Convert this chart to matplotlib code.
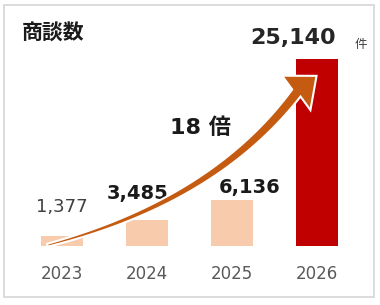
import numpy as np
import matplotlib.pyplot as plt
from matplotlib.patches import Polygon, Rectangle
from matplotlib.transforms import IdentityTransform

plt.rcParams['font.family'] = ['DejaVu Sans', 'Noto Sans CJK JP']

years = ['2023', '2024', '2025', '2026']
counts = [1377, 3485, 6136, 25140]
bar_colors = ['#F8CBAD', '#F8CBAD', '#F8CBAD', '#C00000']
value_labels = ['1,377', '3,485', '6,136', '25,140']

# label placement (data coords)
label_x = [0.0, 0.89, 2.21, 2.72]
label_y = [5240, 7120, 7930, 27950]
label_size = [13, 14, 14, 16]
label_weight = ['normal', 'bold', 'bold', 'bold']
label_color = ['#404040', '#1a1a1a', '#1a1a1a', '#262626']

fig = plt.figure(figsize=(3.8, 3.05), dpi=100)
fig.patch.set_facecolor('white')

# outer frame
fig.add_artist(Rectangle((4 / 380, 1 - 297 / 305), 370 / 380, 292 / 305,
                         transform=fig.transFigure, fill=False,
                         edgecolor='#D9D9D9', lw=1.3))

ax = fig.add_axes([19.5 / 380, 1 - 246 / 305, 340 / 380, 223 / 305])
x = np.arange(len(years))
ax.bar(x, counts, width=0.5, color=bar_colors, zorder=2)
ax.set_xlim(-0.5, 3.5)
ax.set_ylim(0, 30000)
ax.set_xticks(x)
ax.set_xticklabels(years, fontsize=12, color='#595959')
ax.tick_params(axis='x', length=0, pad=14)
ax.set_yticks([])
for s in ax.spines.values():
    s.set_visible(False)
ax.patch.set_alpha(0)

for i in range(len(counts)):
    ax.text(label_x[i], label_y[i], value_labels[i], ha='center', va='center',
            fontsize=label_size[i], fontweight=label_weight[i],
            color=label_color[i], zorder=5)

ax.text(3.51, 27150, '件', ha='center', va='center', fontsize=9,
        color='#404040', family='Noto Sans CJK JP', clip_on=False)
ax.text(1.635, 15900, '18 倍', ha='center', va='center', fontsize=16,
        fontweight='bold', color='#1a1a1a', family=['DejaVu Sans', 'Noto Sans CJK JP'])

fig.text(22 / 380, 1 - 33 / 305, '商談数', ha='left', va='center', fontsize=15,
         fontweight='bold', color='#1a1a1a', family='Noto Sans CJK JP')

# curved growth arrow: quadratic bezier, tapered shaft, triangular head
fig.canvas.draw()
p0, p1, p2, tip = ax.transData.transform([(-0.16, 140), (1.80, 6050),
                                          (2.765, 20700), (2.98, 22750)])
t = np.linspace(0, 1, 100)[:, None]
curve = (1 - t) ** 2 * p0 + 2 * (1 - t) * t * p1 + t ** 2 * p2
deriv = 2 * (1 - t) * (p1 - p0) + 2 * t * (p2 - p1)
nrm = np.column_stack([-deriv[:, 1], deriv[:, 0]])
nrm /= np.linalg.norm(nrm, axis=1)[:, None]
half_w = (0.4 + 4.0 * t[:, 0] ** 0.9)[:, None]
left = curve + nrm * half_w
right = curve - nrm * half_w
d = (tip - p2) / np.linalg.norm(tip - p2)
n_end = np.array([-d[1], d[0]])
head_a = p2 + n_end * 20
head_b = p2 - n_end * 20
pts = np.vstack([left, head_a, tip, head_b, right[::-1]])
# white halo underneath, then the orange fill on top
fig.add_artist(Polygon(pts, closed=True, transform=IdentityTransform(),
                       facecolor='white', edgecolor='white', lw=3.0,
                       joinstyle='miter', zorder=4))
fig.add_artist(Polygon(pts, closed=True, transform=IdentityTransform(),
                       facecolor='#C55A11', edgecolor='none',
                       zorder=4.1))

fig.savefig('out.png', dpi=100)
